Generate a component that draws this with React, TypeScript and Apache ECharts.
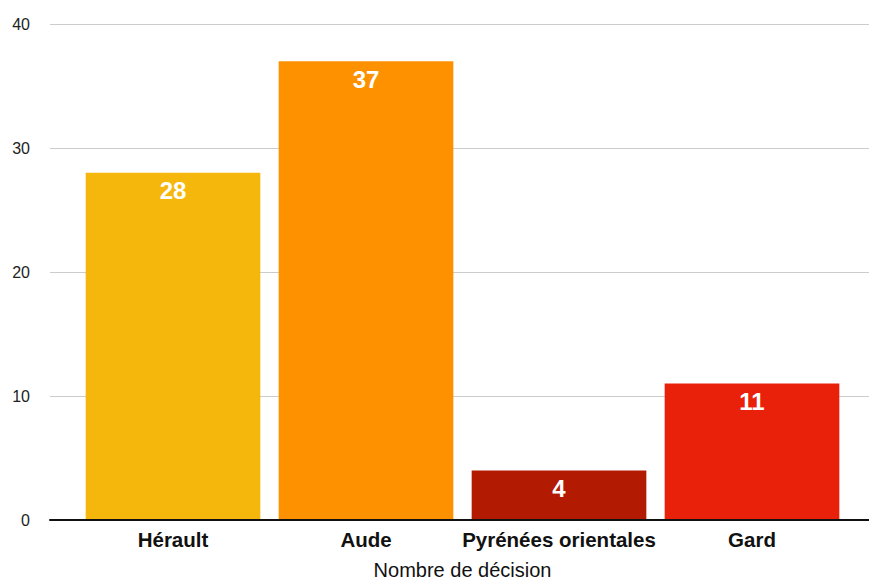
import React, { useEffect, useRef } from "react";
import * as echarts from "echarts";

const categories = ["Hérault", "Aude", "Pyrénées orientales", "Gard"];
const values = [28, 37, 4, 11];
const barColors = ["#F6B70C", "#FD9100", "#B21A01", "#E9210B"];
const axisName = "Nombre de décision";
const yMin = 0;
const yMax = 40;
const yInterval = 10;

const FONT = "'Liberation Sans', Arial, Helvetica, sans-serif";

export default function App() {
  const ref = useRef<HTMLDivElement>(null);
  useEffect(() => {
    document.body.style.margin = "0";
    const chart = echarts.init(ref.current!, null, { renderer: "svg" });
    chart.setOption({
      animation: false,
      backgroundColor: "#ffffff",
      textStyle: { fontFamily: FONT },
      grid: [
        { left: 50, right: 0, top: 24, bottom: 62, containLabel: false, outerBoundsMode: "none" },
        { left: 76.5, right: 20.5, top: 24, bottom: 62, containLabel: false, outerBoundsMode: "none" },
      ],
      xAxis: [
        {
          type: "category",
          gridIndex: 0,
          data: categories,
          axisLine: { show: true, lineStyle: { color: "#111", width: 2 } },
          axisTick: { show: false },
          axisLabel: { show: false },
          splitLine: { show: false },
          z: 5,
        },
        {
          type: "category",
          gridIndex: 1,
          data: categories,
          axisLine: { show: false },
          axisTick: { show: false },
          axisLabel: {
            show: true,
            interval: 0,
            margin: 9,
            color: "#111",
            fontWeight: "bold",
            fontSize: 20.5,
            fontFamily: FONT,
          },
          name: axisName,
          nameLocation: "middle",
          nameGap: 40,
          nameTextStyle: { color: "#111", fontSize: 20, fontFamily: FONT },
        },
      ],
      yAxis: [
        {
          type: "value",
          gridIndex: 0,
          min: yMin,
          max: yMax,
          interval: yInterval,
          axisLine: { show: false },
          axisTick: { show: false },
          axisLabel: { color: "#222", fontSize: 16, margin: 20, fontFamily: FONT },
          splitLine: { show: true, lineStyle: { color: "#cccccc", width: 1 } },
        },
        {
          type: "value",
          gridIndex: 1,
          min: yMin,
          max: yMax,
          interval: yInterval,
          show: false,
          splitLine: { show: false },
        },
      ],
      series: [
        {
          type: "bar",
          xAxisIndex: 1,
          yAxisIndex: 1,
          barCategoryGap: "9.5%",
          data: values.map((v, i) => ({ value: v, itemStyle: { color: barColors[i] } })),
          label: {
            show: true,
            position: "insideTop",
            distance: 6,
            color: "#ffffff",
            fontWeight: "bold",
            fontSize: 24,
            fontFamily: FONT,
          },
        },
      ],
    });
    return () => chart.dispose();
  }, []);
  return <div ref={ref} style={{ width: 869, height: 582 }} />;
}
